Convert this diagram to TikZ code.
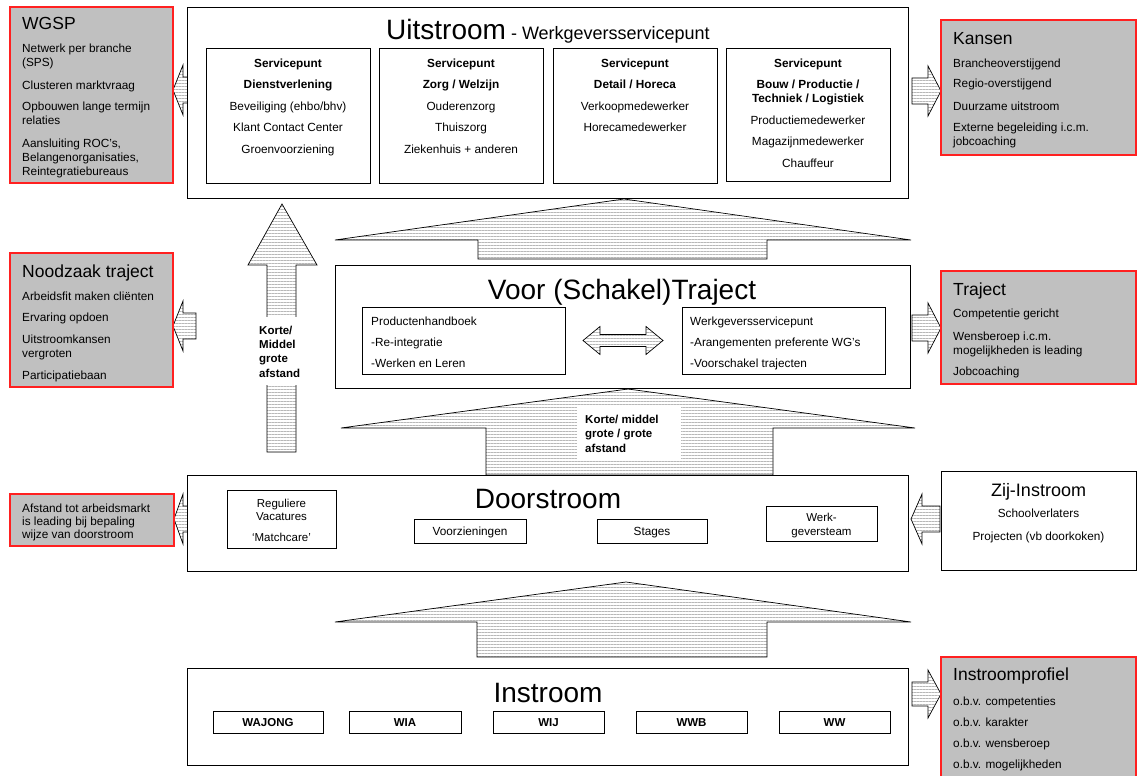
\documentclass[tikz,border=0pt]{standalone}
\usepackage{fontspec}
\setmainfont{Liberation Sans}
\usetikzlibrary{patterns.meta}
\definecolor{boxgray}{HTML}{C0C0C0}
\definecolor{boxred}{HTML}{FF2020}
\definecolor{stripecol}{HTML}{B8B8B8}
\newcommand\fl{\rule{0pt}{9pt}}
\tikzset{
  frame/.style={draw=black, line width=0.9pt, fill=white, anchor=north west, inner sep=0pt, outer sep=0pt},
  side/.style={draw=boxred, line width=1.2pt, fill=boxgray, anchor=north west, inner sep=0pt, outer sep=0pt},
  sub/.style={draw=black, line width=0.8pt, fill=white, anchor=north west, inner sep=0pt, outer sep=0pt},
  striped/.style={draw=black, line width=0.7pt, preaction={fill=white},
     pattern={Lines[angle=0,distance=3pt,line width=0.9pt]}, pattern color=stripecol},
  body/.style={anchor=north west, inner sep=0pt, align=left, font=\fontsize{11.8}{14}\selectfont},
  cbody/.style={anchor=north, inner sep=0pt, align=center, font=\fontsize{11.8}{21.5}\selectfont},
  stitle/.style={anchor=base west, inner sep=0pt, font=\fontsize{17.5}{20}\selectfont},
  mtitle/.style={anchor=base, inner sep=0pt, font=\fontsize{28}{30}\selectfont},
  lbl/.style={anchor=base, inner sep=0pt, font=\fontsize{11.8}{14}\selectfont},
  code/.style={anchor=base, inner sep=0pt, font=\bfseries\fontsize{11.5}{14}\selectfont},
}
\begin{document}
\begin{tikzpicture}[x=1pt,y=-1pt]
\useasboundingbox (0,0) rectangle (1143,776);

% ---------- big up arrows ----------
\draw[striped] (335,240) -- (624,199) -- (911,240) -- (767,240) -- (767,259) -- (478,259) -- (478,240) -- cycle;
\draw[striped] (341,428) -- (628,389) -- (915,428) -- (773,428) -- (773,475) -- (486,475) -- (486,428) -- cycle;
\draw[striped] (335,622) -- (626,582) -- (911,622) -- (767,622) -- (767,657) -- (477,657) -- (477,622) -- cycle;
\draw[striped] (248,265) -- (282,204) -- (317,265) -- (296,265) -- (296,452) -- (267,452) -- (267,265) -- cycle;

% ---------- side block arrows ----------
% left pointing
\draw[striped] (173,90) -- (183,65) -- (183,77) -- (196,77) -- (196,103) -- (183,103) -- (183,115) -- cycle;
\draw[striped] (173,326) -- (183,301) -- (183,313) -- (196,313) -- (196,339) -- (183,339) -- (183,351) -- cycle;
\draw[striped] (174,519) -- (183,494) -- (183,506) -- (196,506) -- (196,532) -- (183,532) -- (183,544) -- cycle;
\draw[striped] (911,519) -- (922,494) -- (922,506) -- (940,506) -- (940,532) -- (922,532) -- (922,544) -- cycle;
% right pointing
\draw[striped] (941,91) -- (928,66) -- (928,78) -- (912,78) -- (912,104) -- (928,104) -- (928,116) -- cycle;
\draw[striped] (941,328) -- (928,303) -- (928,315) -- (912,315) -- (912,341) -- (928,341) -- (928,353) -- cycle;
\draw[striped] (941,694) -- (928,670) -- (928,682) -- (912,682) -- (912,706) -- (928,706) -- (928,718) -- cycle;

% ---------- Uitstroom ----------
\node[frame, minimum width=721pt, minimum height=191pt] (uit) at (187,7) {};
\node[mtitle] (uitT) at (548,40) {Uitstroom{\fontsize{18}{20}\selectfont\ - Werkgeversservicepunt}};
\node[sub, minimum width=164pt, minimum height=135pt] (sp1) at (206,48) {};
\node[sub, minimum width=164pt, minimum height=135pt] (sp2) at (379,48) {};
\node[sub, minimum width=164pt, minimum height=135pt] (sp3) at (553,48) {};
\node[sub, minimum width=164pt, minimum height=133pt] (sp4) at (726,48) {};
\node[cbody] (sp1t) at (288,58) {\fl\textbf{Servicepunt}\\ \textbf{Dienstverlening}\\ Beveiliging (ehbo/bhv)\\ Klant Contact Center\\ Groenvoorziening};
\node[cbody] (sp2t) at (461,58) {\fl\textbf{Servicepunt}\\ \textbf{Zorg / Welzijn}\\ Ouderenzorg\\ Thuiszorg\\ Ziekenhuis + anderen};
\node[cbody] (sp3t) at (635,58) {\fl\textbf{Servicepunt}\\ \textbf{Detail / Horeca}\\ Verkoopmedewerker\\ Horecamedewerker};
\node[cbody] (sp4t) at (808,58) {\fl\textbf{Servicepunt}\\ \textbf{Bouw / Productie /}\\[-7.5pt] \textbf{Techniek / Logistiek}\\ Productiemedewerker\\ Magazijnmedewerker\\ Chauffeur};

% ---------- WGSP ----------
\node[side, minimum width=163pt, minimum height=176pt] (wgsp) at (10,7) {};
\node[stitle] (wgspT) at (22,30) {WGSP};
\node[body] (wgspB) at (22,43) {\fl Netwerk per branche\\ (SPS)\\[9pt] Clusteren marktvraag\\[7pt] Opbouwen lange termijn\\ relaties\\[9pt] Aansluiting ROC's,\\ Belangenorganisaties,\\ Reintegratiebureaus};

% ---------- Kansen ----------
\node[side, minimum width=195pt, minimum height=135pt] (kans) at (941,20) {};
\node[stitle] (kansT) at (953,45) {Kansen};
\node[body] (kansB) at (953,58) {\fl Brancheoverstijgend\\[6pt] Regio-overstijgend\\[9pt] Duurzame uitstroom\\[7pt] Externe begeleiding i.c.m.\\ jobcoaching};

% ---------- Voor (Schakel)Traject ----------
\node[frame, minimum width=575pt, minimum height=123pt] (voor) at (335,265) {};
\node[mtitle] (voorT) at (622,299) {Voor (Schakel)Traject};
\node[sub, minimum width=203pt, minimum height=67pt] (prod) at (362,307) {};
\node[sub, minimum width=203pt, minimum height=67pt] (wsp) at (682,307) {};
\node[body, font=\fontsize{11.8}{21}\selectfont] (prodT) at (371,316) {\fl Productenhandboek\\ -Re-integratie\\ -Werken en Leren};
\node[body, font=\fontsize{11.8}{21}\selectfont] (wspT) at (690,316) {\fl Werkgeversservicepunt\\ -Arangementen preferente WG's\\ -Voorschakel trajecten};
\draw[striped] (prod.east) ++(18,0) coordinate (dl) -- ++(17,-14) -- ++(0,8) -- ++(46,0) -- ++(0,-8) -- ++(17,14) -- ++(-17,14) -- ++(0,-8) -- ++(-46,0) -- ++(0,8) -- cycle;

% ---------- Noodzaak traject ----------
\node[side, minimum width=163pt, minimum height=134pt] (nood) at (10,253) {};
\node[stitle] (noodT) at (22,277) {Noodzaak traject};
\node[body] (noodB) at (22,291) {\fl Arbeidsfit maken cliënten\\[7pt] Ervaring opdoen\\[8pt] Uitstroomkansen\\ vergroten\\[8pt] Participatiebaan};

% ---------- Traject ----------
\node[side, minimum width=195pt, minimum height=113pt] (traj) at (941,271) {};
\node[stitle] (trajT) at (953,295) {Traject};
\node[body] (trajB) at (953,308) {\fl Competentie gericht\\[9pt] Wensberoep i.c.m.\\ mogelijkheden is leading\\[7pt] Jobcoaching};

% ---------- arrow labels ----------
\node[fill=white, inner sep=0pt, minimum width=46pt, minimum height=68pt] (kort1) at (280,351) {};
\node[anchor=north west, inner sep=0pt, align=left, font=\bfseries\fontsize{11.5}{14.3}\selectfont] (kort1T) at (259,325) {\fl Korte/\\ Middel\\ grote\\ afstand};
\node[fill=white, inner sep=0pt, minimum width=104pt, minimum height=54pt, anchor=north west] (kort2) at (577,406) {};
\node[anchor=north west, inner sep=0pt, align=left, font=\bfseries\fontsize{11.5}{14.5}\selectfont] (kort2T) at (585,414) {\fl Korte/ middel\\ grote / grote\\ afstand};

% ---------- Doorstroom ----------
\node[frame, minimum width=721pt, minimum height=96pt] (door) at (187,475) {};
\node[mtitle] (doorT) at (548,508) {Doorstroom};
\node[sub, minimum width=109pt, minimum height=58pt] (reg) at (227,490) {};
\node[anchor=north, inner sep=0pt, align=center, font=\fontsize{11.5}{13.5}\selectfont] (regT) at (281.5,498) {\fl Reguliere\\ Vacatures\\[7pt] ‘Matchcare’};
\node[sub, minimum width=112pt, minimum height=24pt] (vrz) at (414,519) {};
\node[lbl] (vrzT) at (470,535) {Voorzieningen};
\node[sub, minimum width=110pt, minimum height=24pt] (stg) at (597,519) {};
\node[lbl] (stgT) at (652,535) {Stages};
\node[sub, minimum width=111pt, minimum height=35pt] (wgt) at (766,506) {};
\node[anchor=north, inner sep=0pt, align=center, font=\fontsize{11.5}{14.5}\selectfont] (wgtT) at (821.5,512) {\fl Werk-\\ geversteam};

% ---------- Afstand ----------
\node[side, minimum width=164pt, minimum height=52pt] (afst) at (10,494) {};
\node[body, font=\fontsize{11.8}{13}\selectfont] (afstB) at (22,503) {\fl Afstand tot arbeidsmarkt\\ is leading bij bepaling\\ wijze van doorstroom};

% ---------- Zij-Instroom ----------
\node[frame, minimum width=195pt, minimum height=99pt] (zij) at (941,471) {};
\node[anchor=base, inner sep=0pt, font=\fontsize{18}{20}\selectfont] (zijT) at (1038.5,496) {Zij-Instroom};
\node[lbl] (zij1) at (1038.5,517) {Schoolverlaters};
\node[lbl] (zij2) at (1038.5,540) {Projecten (vb doorkoken)};

% ---------- Instroom ----------
\node[frame, minimum width=721pt, minimum height=97pt] (in) at (187,668) {};
\node[mtitle] (inT) at (548,702) {Instroom};
\node[sub, minimum width=110pt, minimum height=22pt] (wajong) at (213,711) {};
\node[sub, minimum width=112pt, minimum height=22pt] (wia) at (349,711) {};
\node[sub, minimum width=111pt, minimum height=22pt] (wij) at (493,711) {};
\node[sub, minimum width=111pt, minimum height=22pt] (wwb) at (636,711) {};
\node[sub, minimum width=111pt, minimum height=22pt] (ww) at (779,711) {};
\node[code] (wajongT) at (268,726) {WAJONG};
\node[code] (wiaT) at (405,726) {WIA};
\node[code] (wijT) at (548.5,726) {WIJ};
\node[code] (wwbT) at (691.5,726) {WWB};
\node[code] (wwT) at (834.5,726) {WW};

% ---------- Instroomprofiel ----------
\node[side, minimum width=195pt, minimum height=130pt] (prof) at (941,657) {};
\node[stitle] (profT) at (953,680) {Instroomprofiel};
\node[body, font=\fontsize{11.8}{14}\selectfont] (profB) at (953,696) {\fl o.b.v. competenties\\[7pt] o.b.v. karakter\\[7pt] o.b.v. wensberoep\\[7pt] o.b.v. mogelijkheden};
\end{tikzpicture}
\end{document}
